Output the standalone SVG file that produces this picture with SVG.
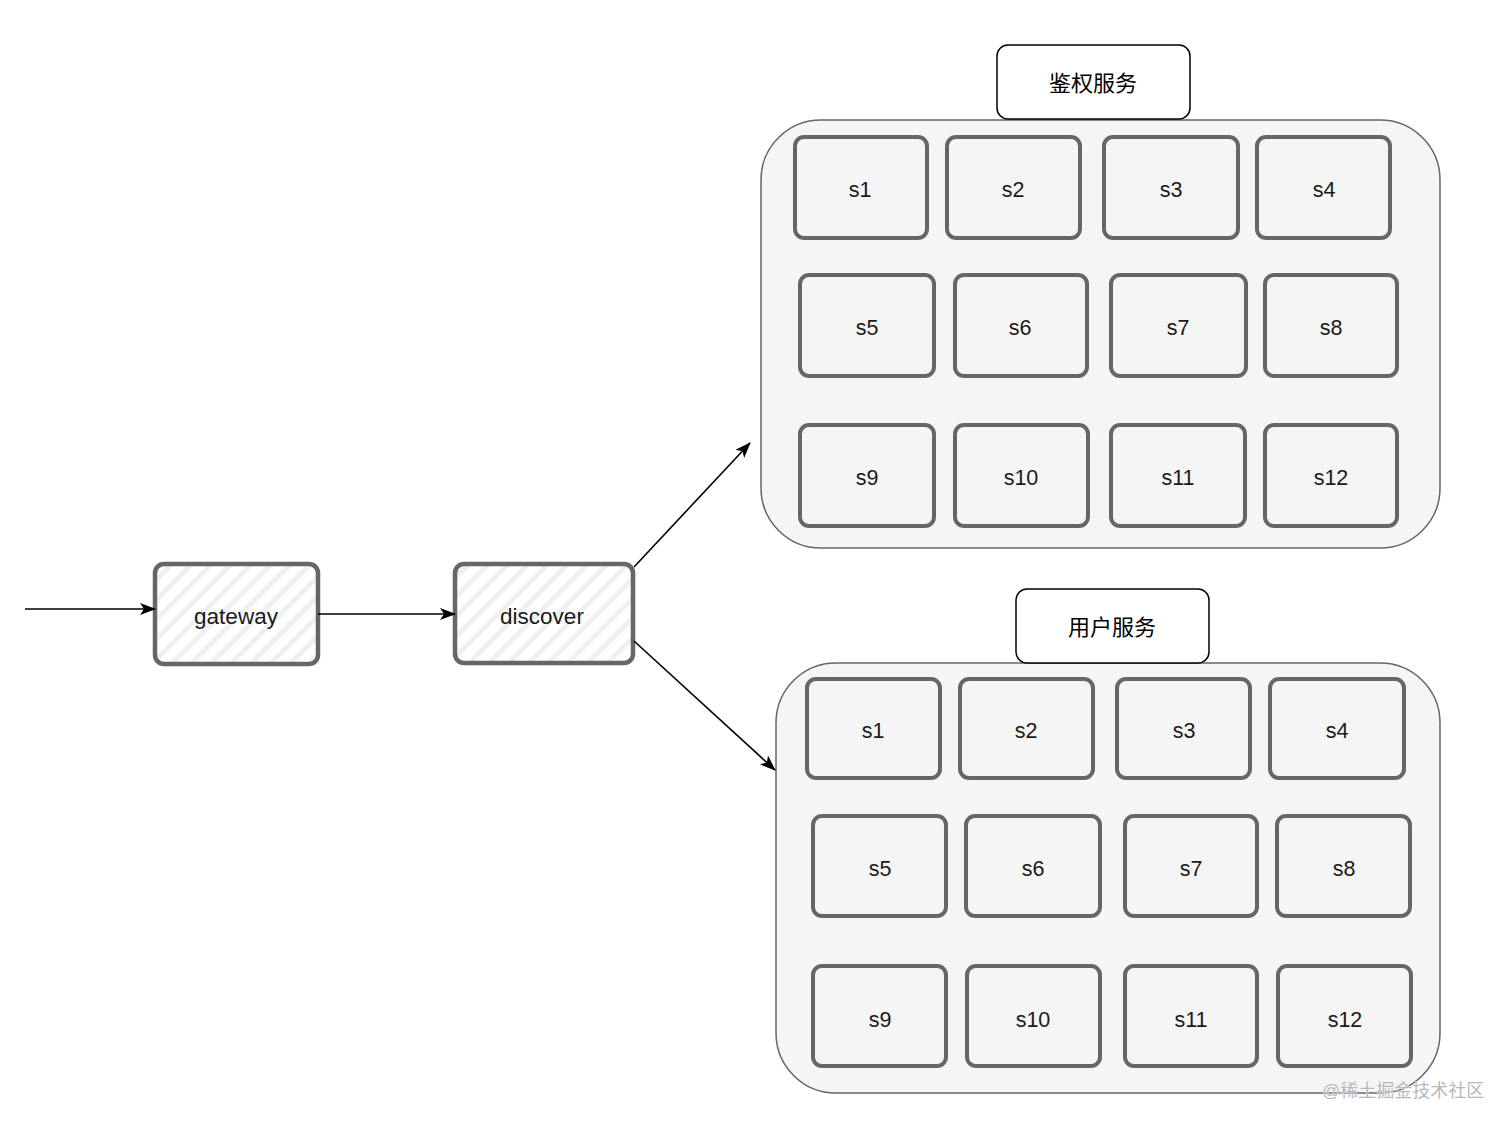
<svg xmlns="http://www.w3.org/2000/svg" width="1512" height="1130" viewBox="0 0 1512 1130">
<style>
.bg{fill:#ffffff}
.container{fill:#f5f5f5;stroke:#666666;stroke-width:1.5}
.title{fill:#ffffff;stroke:#000000;stroke-width:1.5}
.cell{fill:none;stroke:#666666;stroke-width:4;stroke-linejoin:round}
.hatch{fill:url(#hatch);stroke:#666666;stroke-width:4.5}
.lbl{font-family:"Liberation Sans",Arial,sans-serif;font-size:21.5px;fill:#1a1a1a;text-anchor:middle;dominant-baseline:central}
.big{font-size:22.5px}
.cjk{font-family:"Liberation Sans","Noto Sans CJK SC",sans-serif;font-size:22px;fill:#000;text-anchor:middle;dominant-baseline:central}
.wm{font-family:"Liberation Sans","Noto Sans CJK SC",sans-serif;font-size:18px;fill:#b8b8b8;stroke:#ffffff;stroke-width:0.6;paint-order:stroke}
.edge{fill:none;stroke:#000000;stroke-width:1.6}
</style>
<defs>
<pattern id="hatch" patternUnits="userSpaceOnUse" width="14" height="14" patternTransform="rotate(45)">
<rect width="14" height="14" fill="#ffffff"/>
<rect width="5" height="14" fill="#f0f0f0"/>
</pattern>
<marker id="arrow" viewBox="0 0 16 12" refX="15" refY="6" markerWidth="16" markerHeight="12" markerUnits="userSpaceOnUse" orient="auto">
<path d="M0,0 L16,6 L0,12 L4,6 Z" fill="#000"/>
</marker>
</defs>
<rect class="bg" width="1512" height="1130"/>

<g id="auth-service">
<rect class="container" x="761" y="120" width="679" height="428" rx="60"/>
<g id="auth-title"><rect class="title" x="997" y="45" width="193" height="74" rx="11"/><text class="cjk" x="1093" y="83">鉴权服务</text></g>
<g id="auth-s1"><rect class="cell" x="795" y="137" width="132" height="101" rx="9"/><text class="lbl" x="860" y="190">s1</text></g>
<g id="auth-s2"><rect class="cell" x="947" y="137" width="133" height="101" rx="9"/><text class="lbl" x="1013" y="190">s2</text></g>
<g id="auth-s3"><rect class="cell" x="1104" y="137" width="134" height="101" rx="9"/><text class="lbl" x="1171" y="190">s3</text></g>
<g id="auth-s4"><rect class="cell" x="1257" y="137" width="133" height="101" rx="9"/><text class="lbl" x="1324" y="190">s4</text></g>
<g id="auth-s5"><rect class="cell" x="800" y="275" width="134" height="101" rx="9"/><text class="lbl" x="867" y="328">s5</text></g>
<g id="auth-s6"><rect class="cell" x="955" y="275" width="132" height="101" rx="9"/><text class="lbl" x="1020" y="328">s6</text></g>
<g id="auth-s7"><rect class="cell" x="1111" y="275" width="135" height="101" rx="9"/><text class="lbl" x="1178" y="328">s7</text></g>
<g id="auth-s8"><rect class="cell" x="1265" y="275" width="132" height="101" rx="9"/><text class="lbl" x="1331" y="328">s8</text></g>
<g id="auth-s9"><rect class="cell" x="800" y="425" width="134" height="101" rx="9"/><text class="lbl" x="867" y="478">s9</text></g>
<g id="auth-s10"><rect class="cell" x="955" y="425" width="133" height="101" rx="9"/><text class="lbl" x="1021" y="478">s10</text></g>
<g id="auth-s11"><rect class="cell" x="1111" y="425" width="134" height="101" rx="9"/><text class="lbl" x="1178" y="478">s11</text></g>
<g id="auth-s12"><rect class="cell" x="1265" y="425" width="132" height="101" rx="9"/><text class="lbl" x="1331" y="478">s12</text></g>
</g>

<g id="user-service">
<rect class="container" x="776" y="663" width="664" height="430" rx="60"/>
<g id="user-title"><rect class="title" x="1016" y="589" width="193" height="74" rx="11"/><text class="cjk" x="1112" y="627">用户服务</text></g>
<g id="user-s1"><rect class="cell" x="807" y="679" width="133" height="99" rx="9"/><text class="lbl" x="873" y="731">s1</text></g>
<g id="user-s2"><rect class="cell" x="960" y="679" width="133" height="99" rx="9"/><text class="lbl" x="1026" y="731">s2</text></g>
<g id="user-s3"><rect class="cell" x="1117" y="679" width="133" height="99" rx="9"/><text class="lbl" x="1184" y="731">s3</text></g>
<g id="user-s4"><rect class="cell" x="1270" y="679" width="134" height="99" rx="9"/><text class="lbl" x="1337" y="731">s4</text></g>
<g id="user-s5"><rect class="cell" x="813" y="816" width="133" height="100" rx="9"/><text class="lbl" x="880" y="869">s5</text></g>
<g id="user-s6"><rect class="cell" x="966" y="816" width="134" height="100" rx="9"/><text class="lbl" x="1033" y="869">s6</text></g>
<g id="user-s7"><rect class="cell" x="1125" y="816" width="132" height="100" rx="9"/><text class="lbl" x="1191" y="869">s7</text></g>
<g id="user-s8"><rect class="cell" x="1277" y="816" width="133" height="100" rx="9"/><text class="lbl" x="1344" y="869">s8</text></g>
<g id="user-s9"><rect class="cell" x="813" y="966" width="133" height="100" rx="9"/><text class="lbl" x="880" y="1020">s9</text></g>
<g id="user-s10"><rect class="cell" x="967" y="966" width="133" height="100" rx="9"/><text class="lbl" x="1033" y="1020">s10</text></g>
<g id="user-s11"><rect class="cell" x="1125" y="966" width="132" height="100" rx="9"/><text class="lbl" x="1191" y="1020">s11</text></g>
<g id="user-s12"><rect class="cell" x="1278" y="966" width="133" height="100" rx="9"/><text class="lbl" x="1345" y="1020">s12</text></g>
</g>

<g id="gateway"><rect class="hatch" x="155" y="564" width="163" height="100" rx="9"/><text class="lbl big" x="236" y="616">gateway</text></g>
<g id="discover"><rect class="hatch" x="455" y="564" width="178" height="99" rx="9"/><text class="lbl big" x="542" y="616">discover</text></g>

<g id="connectors">
<path class="edge" d="M25,609 L155,609" marker-end="url(#arrow)"/>
<path class="edge" d="M318,614 L455,614" marker-end="url(#arrow)"/>
<path class="edge" d="M634,567 L750,443" marker-end="url(#arrow)"/>
<path class="edge" d="M634,641 L775,770" marker-end="url(#arrow)"/>
</g>

<text class="wm" x="1322" y="1097">@稀土掘金技术社区</text>
</svg>
